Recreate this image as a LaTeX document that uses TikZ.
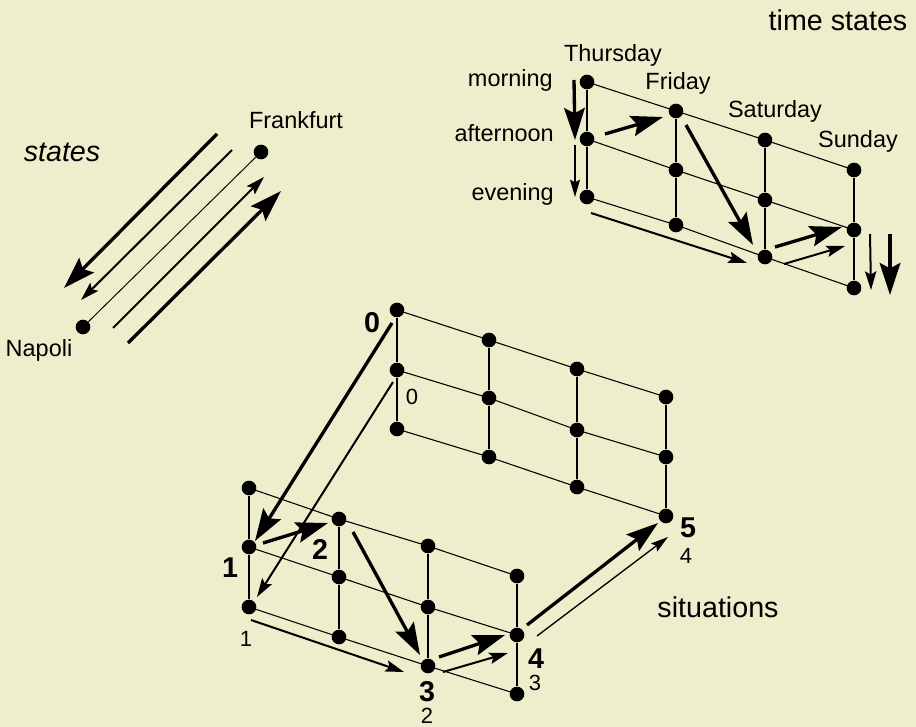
\documentclass[tikz,border=0pt]{standalone}
\usepackage{fontspec}
\setmainfont{Liberation Sans}
\usepackage{xcolor}
\usetikzlibrary{arrows.meta}
\definecolor{paper}{RGB}{238,238,204}

\begin{document}
\begin{tikzpicture}[x=0.75pt,y=-0.75pt,>=Latex,
  dot/.style={circle,fill=black,inner sep=0pt,minimum size=11pt},
  link/.style={line width=0.8pt},
  bar/.style={line width=1.1pt},
  heavy/.style={-{Stealth[length=24pt,width=15.5pt,inset=4pt]},line width=2.5pt},
  medium/.style={-{Stealth[length=14pt,width=8.5pt,inset=2.5pt]},line width=1.5pt},
  light/.style={-{Stealth[length=13pt,width=7.5pt,inset=2pt]},line width=1.0pt},
  txt/.style={font=\fontsize{17.6pt}{20pt}\selectfont,inner sep=0pt,anchor=base},
  big/.style={font=\fontsize{21.5pt}{25pt}\selectfont,inner sep=0pt},
  num/.style={font=\fontsize{21.5pt}{25pt}\selectfont\bfseries,inner sep=0pt},
  sub/.style={font=\fontsize{16.5pt}{20pt}\selectfont,inner sep=0pt}
]
\useasboundingbox (0,0) rectangle (916,727);
\fill[paper] (0,0) rectangle (916,727);

% states
\node[dot] (frankfurt) at (261,152) {};
\node[dot] (napoli) at (83,327) {};
\draw[line width=0.7pt] (frankfurt) -- (napoli);
\node[txt] (lfrankfurt) at (296,129) {Frankfurt};
\node[txt] (lnapoli) at (39,356) {Napoli};
\node[big] (lstates) at (62,152) {\itshape states};
\coordinate (sa1) at (217,134); \coordinate (sa2) at (64,288);
\coordinate (sb1) at (232,150); \coordinate (sb2) at (81,300);
\coordinate (sc1) at (113,328); \coordinate (sc2) at (264,177);
\coordinate (sd1) at (128,343); \coordinate (sd2) at (281,191);
\draw[heavy] (sa1) -- (sa2);
\draw[medium] (sb1) -- (sb2);
\draw[medium] (sc1) -- (sc2);
\draw[heavy] (sd1) -- (sd2);

% time states grid
\node[dot] (t11) at (587,82) {};
\node[dot] (t12) at (587,139) {};
\node[dot] (t13) at (587,197) {};
\node[dot] (t21) at (676,111) {};
\node[dot] (t22) at (676,170) {};
\node[dot] (t23) at (676,225) {};
\node[dot] (t31) at (765,140) {};
\node[dot] (t32) at (765,200) {};
\node[dot] (t33) at (765,257) {};
\node[dot] (t41) at (854,170) {};
\node[dot] (t42) at (854,230) {};
\node[dot] (t43) at (854,288) {};
\foreach \c in {1,2,3,4} {
  \draw[bar] (t\c1) -- (t\c2);
  \draw[bar] (t\c2) -- (t\c3);
}
\foreach \r in {1,2,3} {
  \draw[link] (t1\r) -- (t2\r);
  \draw[link] (t2\r) -- (t3\r);
  \draw[link] (t3\r) -- (t4\r);
}
\node[big] (ltime) at (838,20) {time states};
\node[txt] (lthu) at (613,62) {Thursday};
\node[txt] (lfri) at (678,90) {Friday};
\node[txt] (lsat) at (775,118) {Saturday};
\node[txt] (lsun) at (858,148) {Sunday};
\node[txt,anchor=base east] (lmor) at (553,87) {morning};
\node[txt,anchor=base east] (laft) at (554,142) {afternoon};
\node[txt,anchor=base east] (leve) at (554,200) {evening};
\coordinate (ta1) at (574,80); \coordinate (ta2) at (575,140);
\coordinate (tb1) at (575,145); \coordinate (tb2) at (575,197);
\coordinate (tc1) at (605,134); \coordinate (tc2) at (663,117);
\coordinate (td1) at (686,125); \coordinate (td2) at (753,245);
\coordinate (te1) at (591,213); \coordinate (te2) at (747,263);
\coordinate (tf1) at (775,247); \coordinate (tf2) at (842,227);
\coordinate (tg1) at (784,264); \coordinate (tg2) at (845,246);
\coordinate (th1) at (870,234); \coordinate (th2) at (871,290);
\coordinate (ti1) at (890,234); \coordinate (ti2) at (890,295);
\draw[heavy] (ta1) -- (ta2);
\draw[light] (tb1) -- (tb2);
\draw[heavy] (tc1) -- (tc2);
\draw[heavy] (td1) -- (td2);
\draw[medium] (te1) -- (te2);
\draw[heavy] (tf1) -- (tf2);
\draw[medium] (tg1) -- (tg2);
\draw[medium] (th1) -- (th2);
\draw[heavy] (ti1) -- (ti2);

% situations, upper grid
\node[dot] (u11) at (397,310) {};
\node[dot] (u12) at (397,370) {};
\node[dot] (u13) at (397,429) {};
\node[dot] (u21) at (489,340) {};
\node[dot] (u22) at (489,398) {};
\node[dot] (u23) at (489,457) {};
\node[dot] (u31) at (577,369) {};
\node[dot] (u32) at (577,430) {};
\node[dot] (u33) at (577,487) {};
\node[dot] (u41) at (666,397) {};
\node[dot] (u42) at (666,457) {};
\node[dot] (u43) at (666,516) {};
% situations, lower grid
\node[dot] (w11) at (249,488) {};
\node[dot] (w12) at (249,547) {};
\node[dot] (w13) at (249,607) {};
\node[dot] (w21) at (339,519) {};
\node[dot] (w22) at (339,577) {};
\node[dot] (w23) at (339,637) {};
\node[dot] (w31) at (428,546) {};
\node[dot] (w32) at (428,607) {};
\node[dot] (w33) at (428,666) {};
\node[dot] (w41) at (517,576) {};
\node[dot] (w42) at (517,635) {};
\node[dot] (w43) at (517,694) {};
\foreach \g in {u,w} {
  \foreach \c in {1,2,3,4} {
    \draw[bar] (\g\c1) -- (\g\c2);
    \draw[bar] (\g\c2) -- (\g\c3);
  }
  \foreach \r in {1,2,3} {
    \draw[link] (\g1\r) -- (\g2\r);
    \draw[link] (\g2\r) -- (\g3\r);
    \draw[link] (\g3\r) -- (\g4\r);
  }
}
\node[num] (n0) at (372,323) {0};
\node[num] (n1) at (230,568) {1};
\node[num] (n2) at (320,549) {2};
\node[num] (n3) at (427,692) {3};
\node[num] (n4) at (536,659) {4};
\node[num] (n5) at (688,528) {5};
\node[sub] (m0) at (412,397) {0};
\node[sub] (m1) at (246,639) {1};
\node[sub] (m2) at (427,716) {2};
\node[sub] (m3) at (535,683) {3};
\node[sub] (m4) at (686,556) {4};
\node[big] (lsit) at (718,607) {situations};
\coordinate (ma1) at (392,323); \coordinate (ma2) at (255,541);
\coordinate (mb1) at (393,382); \coordinate (mb2) at (257,597);
\coordinate (mc1) at (263,543); \coordinate (mc2) at (328,523);
\coordinate (md1) at (353,532); \coordinate (md2) at (420,655);
\coordinate (me1) at (251,620); \coordinate (me2) at (404,672);
\coordinate (mf1) at (439,657); \coordinate (mf2) at (505,635);
\coordinate (mg1) at (443,672); \coordinate (mg2) at (508,653);
\coordinate (mh1) at (527,625); \coordinate (mh2) at (658,523);
\coordinate (mi1) at (537,636); \coordinate (mi2) at (668,537);
\draw[heavy] (ma1) -- (ma2);
\draw[medium] (mb1) -- (mb2);
\draw[heavy] (mc1) -- (mc2);
\draw[heavy] (md1) -- (md2);
\draw[medium] (me1) -- (me2);
\draw[heavy] (mf1) -- (mf2);
\draw[medium] (mg1) -- (mg2);
\draw[heavy] (mh1) -- (mh2);
\draw[light] (mi1) -- (mi2);
\end{tikzpicture}
\end{document}
